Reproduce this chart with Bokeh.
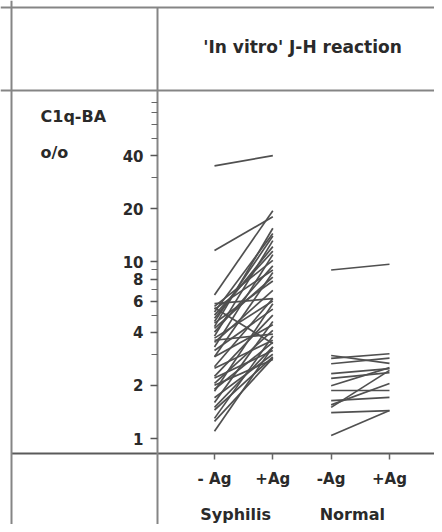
from bokeh.plotting import figure
from bokeh.models import Range1d, FixedTicker, Span, Label, ColumnDataSource, PrintfTickFormatter
from bokeh.core.properties import value
from bokeh.embed import file_html
from bokeh.resources import INLINE

# ---------------- data ----------------
conditions = ["- Ag", "+Ag", "-Ag", "+Ag"]
groups = ["Syphilis", "Normal"]

syphilis_minus_ag = [35, 11.6, 6.5, 4.3, 5.2, 3.8, 4.8, 3.3, 5.6, 4.0, 2.9, 4.5,
                     3.5, 5.8, 5.5, 3.7, 3.6, 3.15, 2.9, 2.55, 2.5, 2.25, 2.2, 2.05,
                     1.9, 1.85, 1.7, 1.6, 1.5, 1.45, 1.3, 1.25, 1.1, 2.0,
                     4.6, 5.0, 5.4, 4.2]
syphilis_plus_ag = [40, 18, 19.5, 15.5, 14.5, 13.2, 12.2, 11, 10.2, 9.5, 8.7, 7.8,
                    6.9, 6.2, 3.45, 6.0, 3.9, 5.4, 4.4, 6.2, 3.6, 5.0, 3.15, 4.1,
                    3.5, 5.8, 3.0, 4.6, 3.3, 2.9, 3.8, 2.85, 3.3, 2.8,
                    14.0, 11.5, 9.0, 8.2]

normal_minus_ag = [9.0, 2.95, 2.84, 2.65, 2.33, 2.19, 1.99, 1.87, 1.64, 1.55, 1.50, 1.40, 1.04]
normal_plus_ag = [9.7, 2.66, 3.02, 2.85, 2.49, 2.36, 2.52, 1.87, 1.71, 2.05, 2.43, 1.44, 1.44]

y_major_ticks = [1, 2, 4, 6, 8, 10, 20, 40]
y_minor_ticks = [3, 5, 7, 9, 30, 50, 60, 70, 80]

title_text = "'In vitro' J-H reaction"
y_label_lines = ["C1q-BA", "o/o"]

# ---------------- layout helpers (canvas pixels -> data) ----------------
W, H = 434, 524
X0_PX, X_STEP = 214.0, 58.33
Y1_PX, DECADE = 438.0, 176.6


def xd(px):
    return 1 + (px - X0_PX) / X_STEP


def yd(py):
    return 10 ** ((Y1_PX - py) / DECADE)


FONT = "DejaVu Sans"
TEXT_COLOR = "#2a2a2a"
RULE_COLOR = "#858585"

cond_pos = list(range(1, len(conditions) + 1))

x0 = [cond_pos[0]] * len(syphilis_minus_ag) + [cond_pos[2]] * len(normal_minus_ag)
x1 = [cond_pos[1]] * len(syphilis_plus_ag) + [cond_pos[3]] * len(normal_plus_ag)
y0 = syphilis_minus_ag + normal_minus_ag
y1 = syphilis_plus_ag + normal_plus_ag
src = ColumnDataSource(dict(x0=x0, y0=y0, x1=x1, y1=y1))

p = figure(width=W, height=H, output_backend="svg", toolbar_location=None,
           x_range=Range1d(xd(0), xd(W)),
           y_range=Range1d(yd(H), yd(0)),
           y_axis_type="log", min_border=0)
p.title.visible = False
p.grid.visible = False
p.outline_line_color = None
p.background_fill_color = "white"
p.border_fill_color = "white"

p.segment(x0="x0", y0="y0", x1="x1", y1="y1", source=src,
          line_color="#505050", line_width=1.7)

# y axis (drawn on the column separator)
yax = p.yaxis[0]
yax.fixed_location = xd(157)
yax.bounds = (yd(H), yd(7))
yax.ticker = FixedTicker(ticks=y_major_ticks, minor_ticks=y_minor_ticks)
yax.formatter = PrintfTickFormatter(format="%d")
yax.axis_line_color = RULE_COLOR
yax.axis_line_width = 2
yax.major_tick_out = 7
yax.major_tick_in = 0
yax.minor_tick_out = 6
yax.minor_tick_in = 0
yax.major_tick_line_color = "#555555"
yax.minor_tick_line_color = "#666666"
yax.major_tick_line_width = 1.5
yax.minor_tick_line_width = 1.2
yax.major_label_standoff = 7
yax.major_label_text_font = FONT
yax.major_label_text_font_style = "bold"
yax.major_label_text_font_size = "15px"
yax.major_label_text_color = TEXT_COLOR

# x axis (drawn on the lower rule)
xax = p.xaxis[0]
xax.fixed_location = yd(453)
xax.bounds = (xd(11), xd(W))
xax.ticker = FixedTicker(ticks=cond_pos)
xax.major_label_overrides = {pos: lab for pos, lab in zip(cond_pos, conditions)}
xax.axis_line_color = "#5a5a5a"
xax.axis_line_width = 2
xax.major_tick_out = 6
xax.major_tick_in = 0
xax.minor_tick_line_color = None
xax.major_tick_line_color = "#666666"
xax.major_tick_line_width = 1.5
xax.major_label_standoff = 10
xax.major_label_text_font = FONT
xax.major_label_text_font_style = "bold"
xax.major_label_text_font_size = "15px"
xax.major_label_text_color = TEXT_COLOR

# table rules
p.add_layout(Span(location=xd(11), dimension="height", line_color=RULE_COLOR, line_width=2))
p.add_layout(Span(location=yd(7), dimension="width", line_color=RULE_COLOR, line_width=2))
p.add_layout(Span(location=yd(90), dimension="width", line_color=RULE_COLOR, line_width=2))

# group labels
gx = [(cond_pos[0] + cond_pos[1]) / 2, (cond_pos[2] + cond_pos[3]) / 2]
p.text(x=gx, y=[yd(514)] * len(groups), text=groups, x_offset=-8,
       text_font=value(FONT), text_font_style="bold", text_font_size="16px",
       text_color=TEXT_COLOR, text_align="center", text_baseline="middle")

# title and y label
p.add_layout(Label(x=xd(302), y=yd(46), text=title_text, text_font=FONT,
                   text_font_style="bold", text_font_size="17px", text_color=TEXT_COLOR,
                   text_align="center", text_baseline="middle"))
for txt, py in zip(y_label_lines, [116, 152]):
    p.add_layout(Label(x=xd(40), y=yd(py), text=txt, text_font=FONT,
                       text_font_style="bold", text_font_size="16px", text_color=TEXT_COLOR,
                       text_align="left", text_baseline="middle"))

open("out.html", "w").write(file_html(p, INLINE))
